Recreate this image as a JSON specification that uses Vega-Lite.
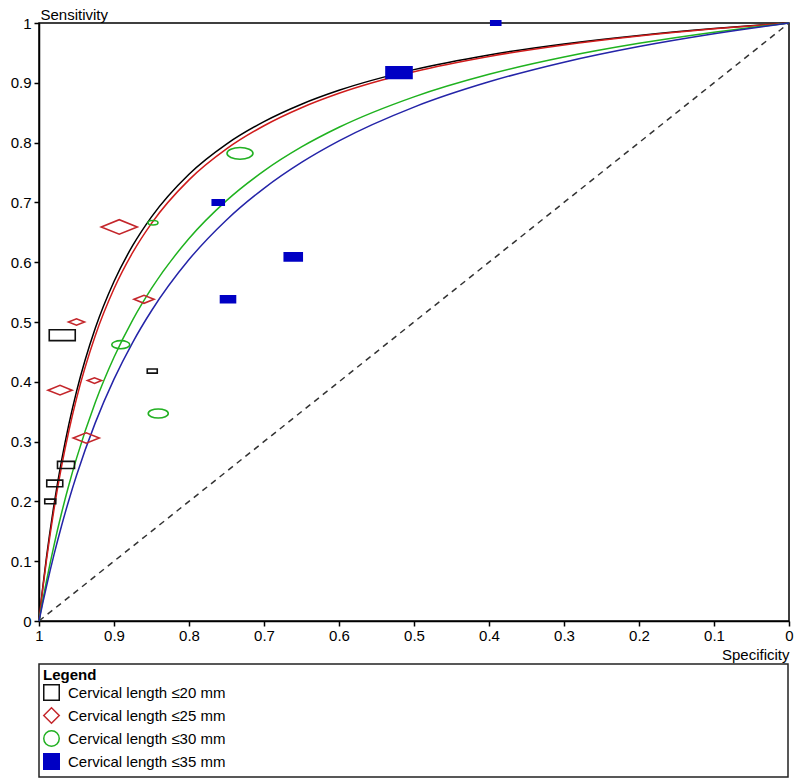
{
  "$schema": "https://vega.github.io/schema/vega-lite/v6.json",
  "width": 750,
  "height": 598,
  "autosize": {"type": "none"},
  "padding": {"left": 39, "top": 23, "right": 11, "bottom": 163},
  "background": "white",
  "datasets": {
    "curves": [
      {"spec": 1, "Cervical length ≤20 mm": 0, "Cervical length ≤25 mm": 0, "Cervical length ≤30 mm": 0, "Cervical length ≤35 mm": 0},
      {"spec": 0.998, "Cervical length ≤20 mm": 0.0231, "Cervical length ≤25 mm": 0.022, "Cervical length ≤30 mm": 0.014, "Cervical length ≤35 mm": 0.0121},
      {"spec": 0.995, "Cervical length ≤20 mm": 0.0561, "Cervical length ≤25 mm": 0.0535, "Cervical length ≤30 mm": 0.0344, "Cervical length ≤35 mm": 0.0298},
      {"spec": 0.99, "Cervical length ≤20 mm": 0.1067, "Cervical length ≤25 mm": 0.102, "Cervical length ≤30 mm": 0.0669, "Cervical length ≤35 mm": 0.0581},
      {"spec": 0.98, "Cervical length ≤20 mm": 0.1943, "Cervical length ≤25 mm": 0.1867, "Cervical length ≤30 mm": 0.1266, "Cervical length ≤35 mm": 0.1109},
      {"spec": 0.97, "Cervical length ≤20 mm": 0.2677, "Cervical length ≤25 mm": 0.2581, "Cervical length ≤30 mm": 0.1801, "Cervical length ≤35 mm": 0.1589},
      {"spec": 0.96, "Cervical length ≤20 mm": 0.33, "Cervical length ≤25 mm": 0.319, "Cervical length ≤30 mm": 0.2283, "Cervical length ≤35 mm": 0.2029},
      {"spec": 0.95, "Cervical length ≤20 mm": 0.3835, "Cervical length ≤25 mm": 0.3719, "Cervical length ≤30 mm": 0.272, "Cervical length ≤35 mm": 0.2433},
      {"spec": 0.925, "Cervical length ≤20 mm": 0.4894, "Cervical length ≤25 mm": 0.477, "Cervical length ≤30 mm": 0.3654, "Cervical length ≤35 mm": 0.3313},
      {"spec": 0.9, "Cervical length ≤20 mm": 0.5677, "Cervical length ≤25 mm": 0.5556, "Cervical length ≤30 mm": 0.441, "Cervical length ≤35 mm": 0.4044},
      {"spec": 0.875, "Cervical length ≤20 mm": 0.628, "Cervical length ≤25 mm": 0.6164, "Cervical length ≤30 mm": 0.5035, "Cervical length ≤35 mm": 0.4661},
      {"spec": 0.85, "Cervical length ≤20 mm": 0.6759, "Cervical length ≤25 mm": 0.665, "Cervical length ≤30 mm": 0.5561, "Cervical length ≤35 mm": 0.5188},
      {"spec": 0.8, "Cervical length ≤20 mm": 0.7472, "Cervical length ≤25 mm": 0.7377, "Cervical length ≤30 mm": 0.6396, "Cervical length ≤35 mm": 0.6044},
      {"spec": 0.75, "Cervical length ≤20 mm": 0.7976, "Cervical length ≤25 mm": 0.7895, "Cervical length ≤30 mm": 0.703, "Cervical length ≤35 mm": 0.6707},
      {"spec": 0.7, "Cervical length ≤20 mm": 0.8351, "Cervical length ≤25 mm": 0.8282, "Cervical length ≤30 mm": 0.7527, "Cervical length ≤35 mm": 0.7236},
      {"spec": 0.65, "Cervical length ≤20 mm": 0.8642, "Cervical length ≤25 mm": 0.8583, "Cervical length ≤30 mm": 0.7927, "Cervical length ≤35 mm": 0.7669},
      {"spec": 0.6, "Cervical length ≤20 mm": 0.8874, "Cervical length ≤25 mm": 0.8824, "Cervical length ≤30 mm": 0.8256, "Cervical length ≤35 mm": 0.8029},
      {"spec": 0.5, "Cervical length ≤20 mm": 0.922, "Cervical length ≤25 mm": 0.9184, "Cervical length ≤30 mm": 0.8765, "Cervical length ≤35 mm": 0.8594},
      {"spec": 0.4, "Cervical length ≤20 mm": 0.9466, "Cervical length ≤25 mm": 0.9441, "Cervical length ≤30 mm": 0.9142, "Cervical length ≤35 mm": 0.9016},
      {"spec": 0.3, "Cervical length ≤20 mm": 0.965, "Cervical length ≤25 mm": 0.9633, "Cervical length ≤30 mm": 0.9431, "Cervical length ≤35 mm": 0.9345},
      {"spec": 0.2, "Cervical length ≤20 mm": 0.9793, "Cervical length ≤25 mm": 0.9783, "Cervical length ≤30 mm": 0.966, "Cervical length ≤35 mm": 0.9607},
      {"spec": 0.1, "Cervical length ≤20 mm": 0.9907, "Cervical length ≤25 mm": 0.9902, "Cervical length ≤30 mm": 0.9846, "Cervical length ≤35 mm": 0.9821},
      {"spec": 0, "Cervical length ≤20 mm": 1, "Cervical length ≤25 mm": 1, "Cervical length ≤30 mm": 1, "Cervical length ≤35 mm": 1}
    ],
    "studies": [
      {"group": "Cervical length ≤20 mm", "spec": 0.969, "sens": 0.478, "weight": 6.76},
      {"group": "Cervical length ≤20 mm", "spec": 0.849, "sens": 0.418, "weight": 1.0},
      {"group": "Cervical length ≤20 mm", "spec": 0.964, "sens": 0.261, "weight": 2.89},
      {"group": "Cervical length ≤20 mm", "spec": 0.979, "sens": 0.23, "weight": 2.56},
      {"group": "Cervical length ≤20 mm", "spec": 0.985, "sens": 0.2, "weight": 1.21},
      {"group": "Cervical length ≤25 mm", "spec": 0.893, "sens": 0.659, "weight": 12.96},
      {"group": "Cervical length ≤25 mm", "spec": 0.95, "sens": 0.5, "weight": 2.56},
      {"group": "Cervical length ≤25 mm", "spec": 0.86, "sens": 0.538, "weight": 4.0},
      {"group": "Cervical length ≤25 mm", "spec": 0.972, "sens": 0.386, "weight": 5.76},
      {"group": "Cervical length ≤25 mm", "spec": 0.926, "sens": 0.402, "weight": 1.96},
      {"group": "Cervical length ≤25 mm", "spec": 0.937, "sens": 0.306, "weight": 6.76},
      {"group": "Cervical length ≤30 mm", "spec": 0.732, "sens": 0.782, "weight": 6.76},
      {"group": "Cervical length ≤30 mm", "spec": 0.848, "sens": 0.666, "weight": 1.0},
      {"group": "Cervical length ≤30 mm", "spec": 0.891, "sens": 0.462, "weight": 3.24},
      {"group": "Cervical length ≤30 mm", "spec": 0.841, "sens": 0.347, "weight": 4.0},
      {"group": "Cervical length ≤35 mm", "spec": 0.391, "sens": 1.0, "weight": 1.0},
      {"group": "Cervical length ≤35 mm", "spec": 0.52, "sens": 0.917, "weight": 6.76},
      {"group": "Cervical length ≤35 mm", "spec": 0.761, "sens": 0.7, "weight": 1.44},
      {"group": "Cervical length ≤35 mm", "spec": 0.661, "sens": 0.609, "weight": 3.24},
      {"group": "Cervical length ≤35 mm", "spec": 0.748, "sens": 0.538, "weight": 2.25}
    ],
    "diag": [
      {"spec": 1, "sens": 0},
      {"spec": 0, "sens": 1}
    ]
  },
  "encoding": {
    "x": {
      "field": "spec",
      "type": "quantitative",
      "scale": {"domain": [0, 1], "reverse": true, "nice": false, "zero": false},
      "axis": {
        "title": "Specificity",
        "values": [0, 0.1, 0.2, 0.3, 0.4, 0.5, 0.6, 0.7, 0.8, 0.9, 1],
        "format": "~g",
        "grid": false,
        "labelFlush": false,
        "labelOverlap": false,
        "tickSize": 5,
        "labelPadding": 2,
        "titleX": 750,
        "titleY": 38,
        "titleAlign": "right",
        "titleBaseline": "alphabetic"
      }
    },
    "y": {
      "field": "sens",
      "type": "quantitative",
      "scale": {"domain": [0, 1], "nice": false, "zero": false},
      "axis": {
        "title": "Sensitivity",
        "values": [0, 0.1, 0.2, 0.3, 0.4, 0.5, 0.6, 0.7, 0.8, 0.9, 1],
        "format": "~g",
        "grid": false,
        "labelFlush": false,
        "labelOverlap": false,
        "tickSize": 5,
        "labelPadding": 3,
        "titleAngle": 0,
        "titleX": 1,
        "titleY": -4,
        "titleAlign": "left",
        "titleBaseline": "alphabetic"
      }
    }
  },
  "layer": [
    {
      "data": {"name": "diag"},
      "mark": {"type": "line", "color": "#333333", "strokeWidth": 1.5, "strokeDash": [6, 5]},
      "encoding": {}
    },
    {
      "data": {"name": "curves"},
      "transform": [
        {"fold": ["Cervical length ≤20 mm", "Cervical length ≤25 mm", "Cervical length ≤30 mm", "Cervical length ≤35 mm"], "as": ["group", "sens"]}
      ],
      "mark": {"type": "line", "strokeWidth": 1.5, "interpolate": "monotone"},
      "encoding": {
        "color": {
          "field": "group",
          "type": "nominal",
          "scale": {
            "domain": ["Cervical length ≤20 mm", "Cervical length ≤25 mm", "Cervical length ≤30 mm", "Cervical length ≤35 mm"],
            "range": ["#000000", "#d01c1c", "#1fb21f", "#2424a8"]
          },
          "legend": null
        }
      }
    },
    {
      "data": {"name": "studies"},
      "mark": {"type": "point", "opacity": 1, "strokeWidth": 1.6},
      "encoding": {
        "stroke": {
          "field": "group",
          "type": "nominal",
          "scale": {
            "domain": ["Cervical length ≤20 mm", "Cervical length ≤25 mm", "Cervical length ≤30 mm", "Cervical length ≤35 mm"],
            "range": ["#111111", "#c4262b", "#22b022", "#0000c4"]
          },
          "legend": null
        },
        "fill": {
          "field": "group",
          "type": "nominal",
          "scale": {
            "domain": ["Cervical length ≤20 mm", "Cervical length ≤25 mm", "Cervical length ≤30 mm", "Cervical length ≤35 mm"],
            "range": ["transparent", "transparent", "transparent", "#0000c4"]
          },
          "legend": null
        },
        "shape": {
          "field": "group",
          "type": "nominal",
          "scale": {
            "domain": ["Cervical length ≤20 mm", "Cervical length ≤25 mm", "Cervical length ≤30 mm", "Cervical length ≤35 mm"],
            "range": [
              "M-1,-0.42L1,-0.42L1,0.42L-1,0.42Z",
              "M-1,0L0,-0.4L1,0L0,0.4Z",
              "M-1,0A1,0.45,0,1,1,1,0A1,0.45,0,1,1,-1,0Z",
              "M-1,-0.45L1,-0.45L1,0.45L-1,0.45Z"
            ]
          },
          "legend": null
        },
        "size": {
          "field": "weight",
          "type": "quantitative",
          "scale": {"domain": [0, 13], "range": [0, 1300], "zero": true},
          "legend": null
        }
      }
    },
    {
      "data": {"name": "studies"},
      "transform": [{"filter": "false"}],
      "mark": {"type": "point", "opacity": 1, "strokeWidth": 1.5},
      "encoding": {
        "stroke": {
          "field": "group",
          "type": "nominal",
          "scale": {
            "domain": ["Cervical length ≤20 mm", "Cervical length ≤25 mm", "Cervical length ≤30 mm", "Cervical length ≤35 mm"],
            "range": ["#111111", "#c4262b", "#22b022", "#0000c4"]
          },
          "legend": {
            "title": "Legend",
            "orient": "none",
            "legendX": 0,
            "legendY": 641,
            "labelLimit": 0,
            "labelExpr": "pad(datum.label, 156, '\u00a0') + '\u200b'"
          }
        },
        "fill": {
          "field": "group",
          "type": "nominal",
          "scale": {
            "domain": ["Cervical length ≤20 mm", "Cervical length ≤25 mm", "Cervical length ≤30 mm", "Cervical length ≤35 mm"],
            "range": ["transparent", "transparent", "transparent", "#0000c4"]
          },
          "legend": {
            "title": "Legend",
            "orient": "none",
            "legendX": 0,
            "legendY": 641,
            "labelLimit": 0,
            "labelExpr": "pad(datum.label, 156, '\u00a0') + '\u200b'"
          }
        },
        "shape": {
          "field": "group",
          "type": "nominal",
          "scale": {
            "domain": ["Cervical length ≤20 mm", "Cervical length ≤25 mm", "Cervical length ≤30 mm", "Cervical length ≤35 mm"],
            "range": ["square", "diamond", "circle", "square"]
          },
          "legend": {
            "title": "Legend",
            "orient": "none",
            "legendX": 0,
            "legendY": 641,
            "labelLimit": 0,
            "labelExpr": "pad(datum.label, 156, '\u00a0') + '\u200b'"
          }
        }
      }
    }
  ],
  "resolve": {
    "scale": {"color": "independent", "stroke": "independent", "fill": "independent", "shape": "independent", "size": "independent"}
  },
  "config": {
    "font": "Liberation Sans",
    "view": {"stroke": "#000000", "strokeWidth": 1.5},
    "axis": {
      "domainColor": "#000000",
      "domainWidth": 1.5,
      "tickColor": "#000000",
      "tickWidth": 1.5,
      "labelFont": "Liberation Sans",
      "labelFontSize": 15,
      "labelColor": "#000000",
      "titleFont": "Liberation Sans",
      "titleFontSize": 15,
      "titleFontWeight": "normal",
      "titleColor": "#000000"
    },
    "legend": {
      "titleFont": "Liberation Sans",
      "titleFontSize": 15,
      "titleFontWeight": "bold",
      "titleColor": "#000000",
      "titlePadding": 1,
      "labelFont": "Liberation Sans",
      "labelFontSize": 15,
      "labelColor": "#000000",
      "labelLimit": 0,
      "labelOffset": 8,
      "padding": 4,
      "rowPadding": 0,
      "symbolSize": 240,
      "symbolStrokeWidth": 1.5,
      "strokeColor": "#222222",
      "strokeWidth": 1.5
    }
  }
}
